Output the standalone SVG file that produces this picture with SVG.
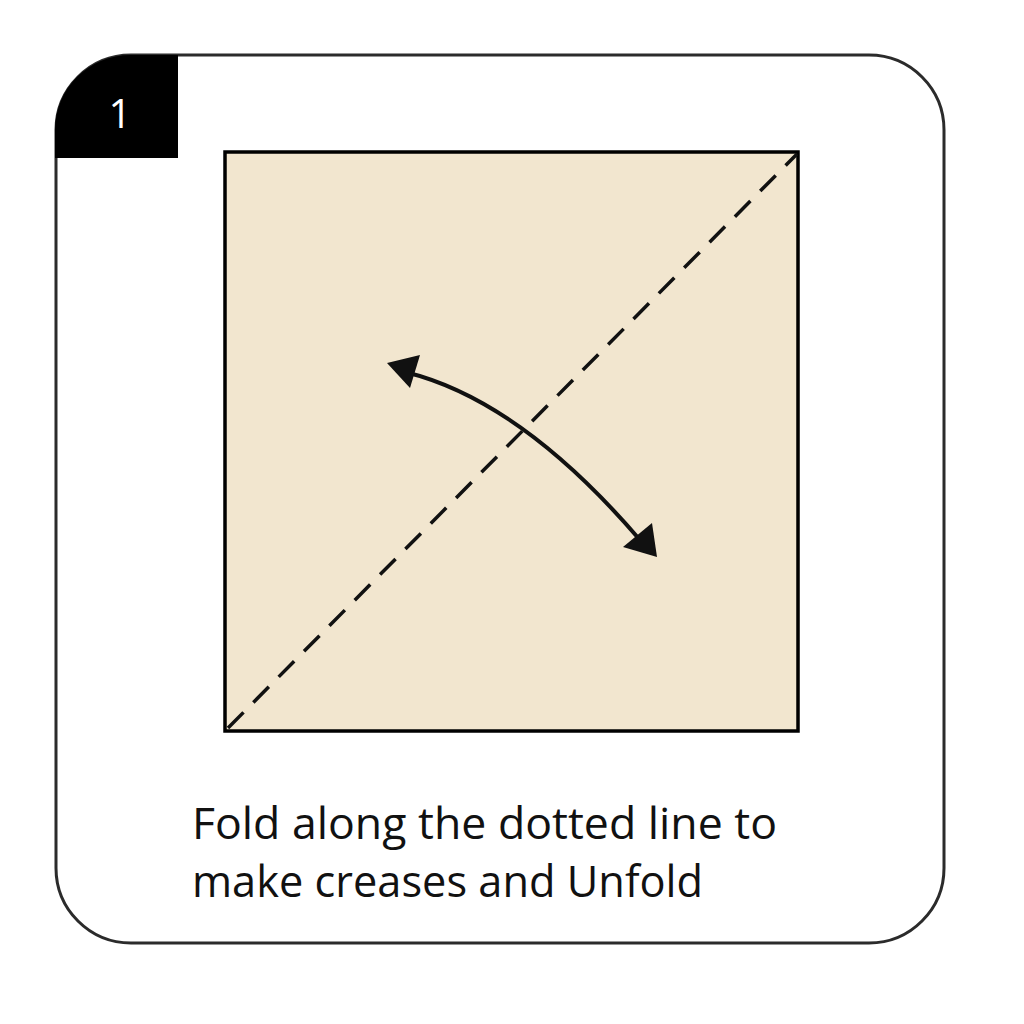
<svg xmlns="http://www.w3.org/2000/svg" width="1024" height="1024" viewBox="0 0 1024 1024">
<style>
.lbl{font-family:"Open Sans","Noto Sans","Liberation Sans",sans-serif;font-size:44px;font-weight:500;fill:#111}
</style>
<rect width="1024" height="1024" fill="#fff"/>
<g id="frame">
<rect x="56" y="55" width="888" height="888" rx="75" ry="75" fill="#fff" stroke="#2b2b2b" stroke-width="3"/>
</g>
<g id="tab">
<path d="M55,158 L55,130 A75,75 0 0 1 130,55 L178,55 L178,158 Z" fill="#000"/>
<text x="120" y="128" text-anchor="middle" font-family="Open Sans,Noto Sans,sans-serif" font-size="40" fill="#fff">1</text>
</g>
<g id="paper">
<rect x="225" y="152" width="573" height="579" fill="#f2e6cf" stroke="#000" stroke-width="3.5"/>
</g>
<g id="connectors">
<line x1="228" y1="728" x2="797" y2="154" stroke="#111" stroke-width="3.5" stroke-dasharray="22,14"/>
<path d="M405,372 Q520,400 640,540" fill="none" stroke="#111" stroke-width="4"/>
<polygon points="387,363 420,355 410,388" fill="#111"/>
<polygon points="657,557 623,547 652,523" fill="#111"/>
</g>
<g id="caption">
<text class="lbl" x="192" y="839" textLength="585" lengthAdjust="spacingAndGlyphs">Fold along the dotted line to</text>
<text class="lbl" x="192" y="897" textLength="511" lengthAdjust="spacingAndGlyphs">make creases and Unfold</text>
</g>
</svg>
